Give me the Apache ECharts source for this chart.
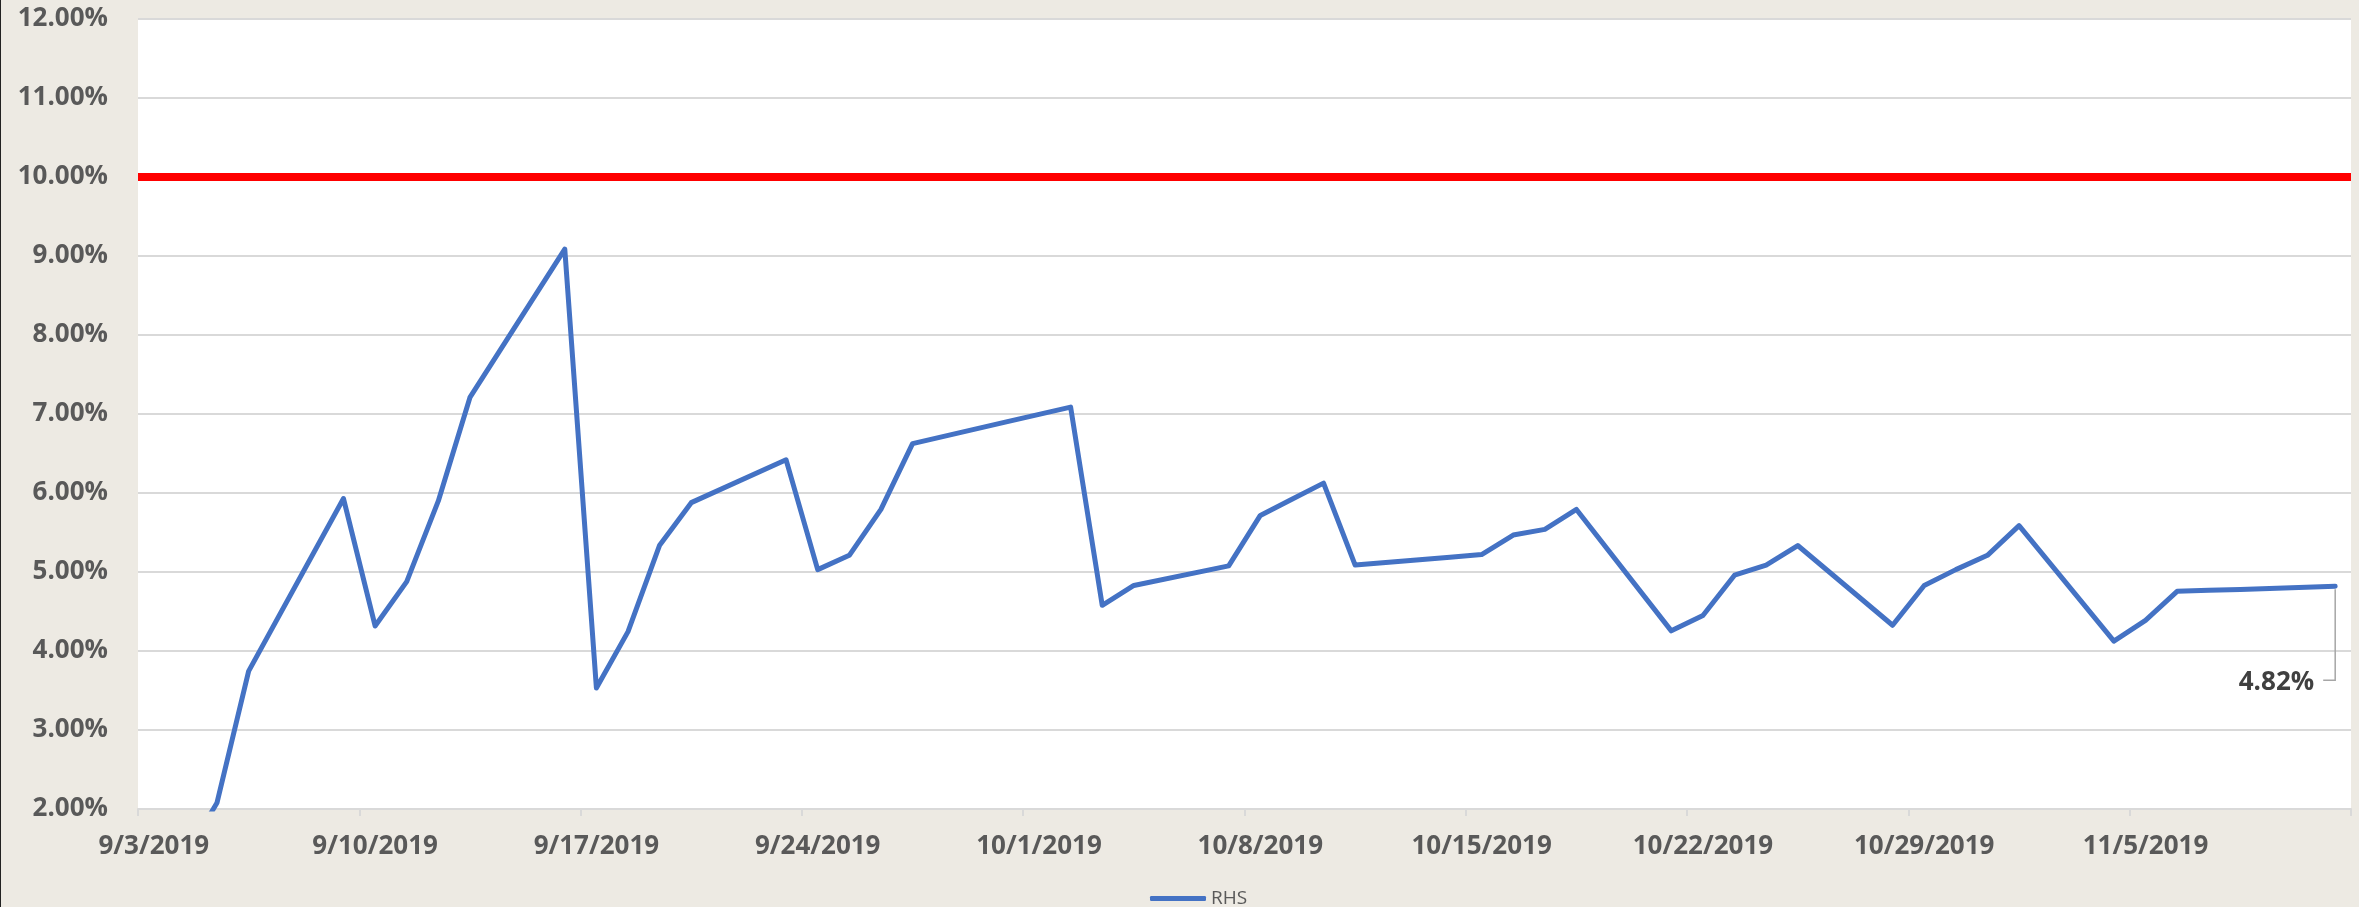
<!DOCTYPE html>
<html>
<head>
<meta charset="utf-8">
<script src="https://cdn.jsdelivr.net/npm/echarts@6/dist/echarts.min.js"></script>
<style>
  html, body { margin: 0; padding: 0; background: #EDEAE3; }
  #chart { width: 2359px; height: 907px; }
</style>
</head>
<body>
<div id="chart"></div>
<script>
// ---- Data (percent values) ----
const tradeDates = [
  '2019-09-03','2019-09-04','2019-09-05','2019-09-06',
  '2019-09-09','2019-09-10','2019-09-11','2019-09-12','2019-09-13',
  '2019-09-16','2019-09-17','2019-09-18','2019-09-19','2019-09-20',
  '2019-09-23','2019-09-24','2019-09-25','2019-09-26','2019-09-27',
  '2019-09-30','2019-10-01','2019-10-02','2019-10-03','2019-10-04',
  '2019-10-07','2019-10-08','2019-10-09','2019-10-10','2019-10-11',
  '2019-10-14','2019-10-15','2019-10-16','2019-10-17','2019-10-18',
  '2019-10-21','2019-10-22','2019-10-23','2019-10-24','2019-10-25',
  '2019-10-28','2019-10-29','2019-10-30','2019-10-31','2019-11-01',
  '2019-11-04','2019-11-05','2019-11-06','2019-11-07','2019-11-08',
  '2019-11-11'
];
const rhsValues = [
  0.90, 1.40, 2.08, 3.745,
  5.93, 4.317, 4.878, 5.90, 7.21,
  9.086, 3.531, 4.245, 5.34, 5.878,
  6.42, 5.03, 5.211, 5.792, 6.625,
  6.904, 6.996, 7.087, 4.578, 4.83,
  5.078, 5.716, 5.92, 6.125, 5.088,
  5.188, 5.221, 5.468, 5.54, 5.792,
  4.255, 4.45, 4.959, 5.088, 5.335,
  4.326, 4.83, 5.03, 5.211, 5.587,
  4.126, 4.388, 4.755, 4.77, 4.78,
  4.82
];
const seriesName = 'RHS';
const thresholdValue = 10;
const yMin = 2, yMax = 12, yInterval = 1;
const labelEvery = 7; // weekly labels

// ---- Build daily category axis from the first to the last trading date ----
function parseD(s) { const [y, m, d] = s.split('-').map(Number); return new Date(Date.UTC(y, m - 1, d)); }
function keyD(dt) { return dt.toISOString().slice(0, 10); }
const categories = [];
for (let t = parseD(tradeDates[0]); t <= parseD(tradeDates[tradeDates.length - 1]); t = new Date(t.getTime() + 86400000)) {
  categories.push(keyD(t));
}
const valueByDate = {};
tradeDates.forEach((d, i) => { valueByDate[d] = rhsValues[i]; });
const lineData = categories.map(c => (c in valueByDate ? valueByDate[c] : null));

function fmtDate(s) {
  const dt = parseD(s);
  return (dt.getUTCMonth() + 1) + '/' + dt.getUTCDate() + '/' + dt.getUTCFullYear();
}

const chart = echarts.init(document.getElementById('chart'), null, { renderer: 'canvas' });
const axisFont = { fontFamily: 'Open Sans', fontWeight: 'bold', fontSize: 26, color: '#595959' };

chart.setOption({
  animation: false,
  backgroundColor: '#EDEAE3',
  grid: { left: 138, right: 8, top: 19, bottom: 98, show: true, backgroundColor: '#FFFFFF', borderWidth: 0, containLabel: false },
  legend: {
    data: [seriesName],
    left: 1145, top: 884,
    icon: 'roundRect', itemWidth: 56, itemHeight: 5,
    textStyle: { fontFamily: 'Open Sans', fontSize: 19, color: '#595959' }
  },
  xAxis: {
    type: 'category',
    data: categories,
    boundaryGap: true,
    axisLine: { show: true, lineStyle: { color: '#D9D9D9', width: 2 } },
    axisTick: { show: true, interval: labelEvery - 1, length: 7, lineStyle: { color: '#D9D9D9', width: 2 } },
    axisLabel: Object.assign({ interval: labelEvery - 1, margin: 25, formatter: fmtDate }, axisFont),
    splitLine: { show: false }
  },
  yAxis: {
    type: 'value',
    min: yMin, max: yMax, interval: yInterval,
    axisLine: { show: false },
    axisTick: { show: false },
    axisLabel: Object.assign({ margin: 30, formatter: v => v.toFixed(2) + '%' }, axisFont),
    splitLine: { show: true, lineStyle: { color: '#D9D9D9', width: 2 } }
  },
  series: [{
    name: seriesName,
    type: 'line',
    data: lineData,
    connectNulls: true,
    showSymbol: false,
    symbol: 'none',
    clip: true,
    lineStyle: { color: '#4472C4', width: 5, cap: 'round', join: 'round' },
    itemStyle: { color: '#4472C4' },
    markLine: {
      silent: true,
      symbol: 'none',
      label: { show: false },
      lineStyle: { color: '#FF0000', width: 8, type: 'solid' },
      data: [{ yAxis: thresholdValue }]
    }
  }]
});

// Data label on the last point with an elbow leader line (positions from the axis scales)
const lastCat = tradeDates[tradeDates.length - 1];
const lastVal = rhsValues[rhsValues.length - 1];
const p = chart.convertToPixel({ xAxisIndex: 0, yAxisIndex: 0 }, [lastCat, lastVal]);
chart.setOption({
  graphic: [
    { type: 'rect', left: 0, top: 0, shape: { width: 1, height: 907 }, style: { fill: '#222222' }, silent: true },
    {
      type: 'polyline', silent: true, z: 10,
      shape: { points: [[p[0], p[1] + 3], [p[0], p[1] + 94], [p[0] - 12, p[1] + 94]] },
      style: { stroke: '#A6A6A6', lineWidth: 1.5, fill: null }
    },
    {
      type: 'text', silent: true, z: 10,
      x: p[0] - 21, y: p[1] + 96,
      style: {
        text: lastVal.toFixed(2) + '%',
        align: 'right', verticalAlign: 'middle',
        fontFamily: 'Open Sans', fontWeight: 'bold', fontSize: 26, fill: '#404040'
      }
    }
  ]
});
</script>
</body>
</html>
